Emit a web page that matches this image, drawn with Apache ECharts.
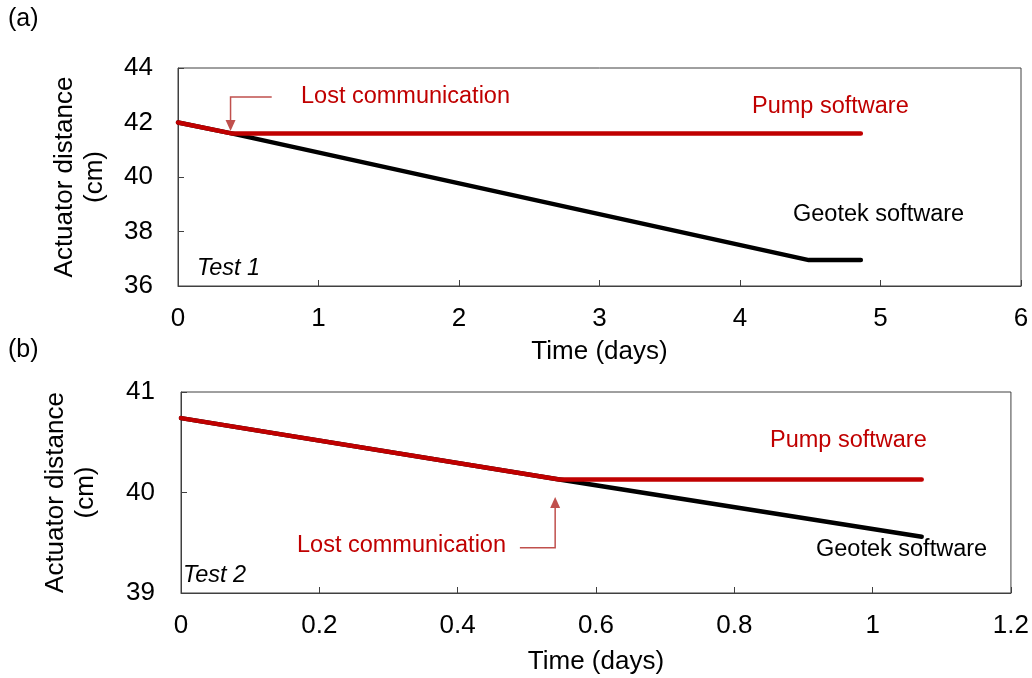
<!DOCTYPE html>
<html><head><meta charset="utf-8">
<script src="https://cdn.jsdelivr.net/npm/echarts@6/dist/echarts.min.js"></script>
<style>html,body{margin:0;padding:0;background:#fff}#c{width:1032px;height:678px}</style>
</head><body><div id="c"></div>
<script>
// Test 1 (days, cm)
const t1Geotek = [[0, 42.0], [0.38, 41.6], [4.49, 36.95], [4.86, 36.95]];
const t1Pump = [[0, 42.0], [0.38, 41.6], [4.86, 41.6]];
// Test 2
const t2Geotek = [[0, 40.74], [0.547, 40.13], [1.071, 39.56]];
const t2Pump = [[0, 40.74], [0.547, 40.13], [1.071, 40.13]];
// annotation anchors (data coords)
const t1Arrow = [[0.667, 42.94], [0.374, 42.94], [0.374, 41.69]];
const t2Arrow = [[0.49, 39.45], [0.541, 39.45], [0.541, 39.955]];

const FONT = 'Liberation Sans, Arial, sans-serif';
const RED = '#c00000', ARROW = '#c0504d', FRAME = '#404040';
const chart = echarts.init(document.getElementById('c'));
function xAx(idx, max, interval, gap) {
  return {type: 'value', gridIndex: idx, min: 0, max: max, interval: interval,
    name: 'Time (days)', nameLocation: 'middle', nameGap: gap,
    nameTextStyle: {fontFamily: FONT, fontSize: 26, color: '#000'},
    axisLine: {show: true, lineStyle: {color: FRAME, width: 1}},
    axisTick: {show: true, inside: true, length: 6, lineStyle: {color: FRAME}},
    axisLabel: {fontFamily: FONT, fontSize: 26, color: '#000', margin: 20},
    splitLine: {show: false}};
}
function yAx(idx, min, max, interval, gap, margin) {
  return {type: 'value', gridIndex: idx, min: min, max: max, interval: interval,
    name: 'Actuator distance\n(cm)', nameLocation: 'middle', nameGap: gap, nameRotate: 90,
    nameTextStyle: {fontFamily: FONT, fontSize: 26, color: '#000', lineHeight: 30},
    axisLine: {show: true, lineStyle: {color: FRAME, width: 1}},
    axisTick: {show: true, inside: true, length: 6, lineStyle: {color: FRAME}},
    axisLabel: {fontFamily: FONT, fontSize: 26, color: '#000', margin: margin},
    splitLine: {show: false}};
}
function ln(data, color, xi) {
  return {type: 'line', xAxisIndex: xi, yAxisIndex: xi, data: data, showSymbol: false,
    symbol: 'none', lineStyle: {color: color, width: 4.5, cap: 'round', join: 'round'},
    animation: false, z: color === RED ? 3 : 2};
}
chart.setOption({
  animation: false,
  grid: [
    {left: 178, top: 68, width: 843, height: 218, show: true, borderColor: FRAME, borderWidth: 1},
    {left: 181, top: 392, width: 830, height: 201, show: true, borderColor: FRAME, borderWidth: 1}
  ],
  xAxis: [xAx(0, 6, 1, 53), xAx(1, 1.2, 0.2, 56)],
  yAxis: [yAx(0, 36, 44, 2, 68, 25), yAx(1, 39, 41, 1, 80, 26)],
  series: [ln(t1Geotek, '#000', 0), ln(t1Pump, RED, 0), ln(t2Geotek, '#000', 1), ln(t2Pump, RED, 1)]
});
function px(g, p) { return chart.convertToPixel({gridIndex: g}, p); }
function txt(x, y, s, color, size, italic) {
  return {type: 'text', x: x, y: y, z: 10, style: {text: s, fill: color, font: (italic ? 'italic ' : '') + size + 'px ' + FONT,
    textAlign: 'left', textVerticalAlign: 'middle'}};
}
function arrow(g, pts) {
  const p = pts.map(q => px(g, q));
  const n = p.length, tip = p[n - 1], prev = p[n - 2];
  const dx = tip[0] - prev[0], dy = tip[1] - prev[1], L = Math.hypot(dx, dy);
  const ux = dx / L, uy = dy / L, h = 11, w = 5;
  const bx = tip[0] - ux * h, by = tip[1] - uy * h;
  const line = p.slice(0, n - 1).concat([[bx, by]]);
  return [
    {type: 'polyline', z: 10, shape: {points: line}, style: {stroke: ARROW, lineWidth: 1.5, fill: null}},
    {type: 'polygon', z: 10, shape: {points: [tip, [bx - uy * w, by + ux * w], [bx + uy * w, by - ux * w]]}, style: {fill: ARROW}}
  ];
}
const g = [
  txt(8, 19, '(a)', '#000', 25),
  txt(8, 350, '(b)', '#000', 25),
  txt(301, 97, 'Lost communication', RED, 23.5),
  txt(752, 107, 'Pump software', RED, 23.5),
  txt(793, 215, 'Geotek software', '#000', 23.5),
  txt(197, 268, 'Test 1', '#000', 23.5, true),
  txt(297, 546, 'Lost communication', RED, 23.5),
  txt(770, 441, 'Pump software', RED, 23.5),
  txt(816, 550, 'Geotek software', '#000', 23.5),
  txt(183, 575, 'Test 2', '#000', 23.5, true)
].concat(arrow(0, t1Arrow), arrow(1, t2Arrow));
chart.setOption({graphic: g});
</script></body></html>
